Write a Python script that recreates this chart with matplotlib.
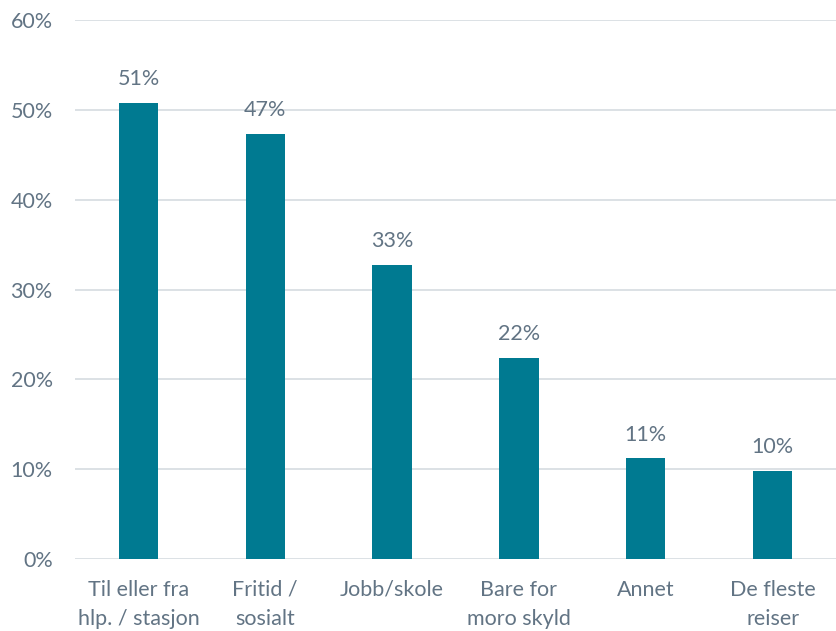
import numpy as np
import matplotlib
matplotlib.use("Agg")
import matplotlib.pyplot as plt

# data
categories = ["Til eller fra\nhlp. / stasjon", "Fritid /\nsosialt", "Jobb/skole",
              "Bare for\nmoro skyld", "Annet", "De fleste\nreiser"]
values = [50.8, 47.3, 32.7, 22.4, 11.2, 9.8]
yticks = [0, 10, 20, 30, 40, 50, 60]

bar_color = "#007A91"
text_color = "#627484"
grid_color = "#D9DEE3"

plt.rcParams["font.family"] = ["Lato", "DejaVu Sans"]

fig = plt.figure(figsize=(8.36, 6.31), dpi=100)
ax = fig.add_axes([0.0897, 0.1141, 0.9103, 0.8542])

x = np.arange(len(categories))
ax.bar(x, values, width=0.31, color=bar_color, zorder=3)

for xi, v in zip(x, values):
    ax.annotate(f"{v:.0f}%", (xi, v), xytext=(0, 10), textcoords="offset points",
                ha="center", va="bottom", fontsize=15.5, color=text_color)

ax.set_xlim(-0.5, len(categories) - 0.5)
ax.set_ylim(0, 60)
ax.set_yticks(yticks)
ax.set_yticklabels([f"{t}%" for t in yticks])
ax.set_xticks(x)
ax.set_xticklabels(categories, linespacing=1.55)

ax.tick_params(axis="both", length=0, labelsize=15.5, labelcolor=text_color)
ax.tick_params(axis="y", pad=16)
ax.tick_params(axis="x", pad=15)
ax.grid(axis="y", color=grid_color, linewidth=1.3, zorder=0)
for s in ax.spines.values():
    s.set_visible(False)

fig.savefig("out.png", dpi=100)
